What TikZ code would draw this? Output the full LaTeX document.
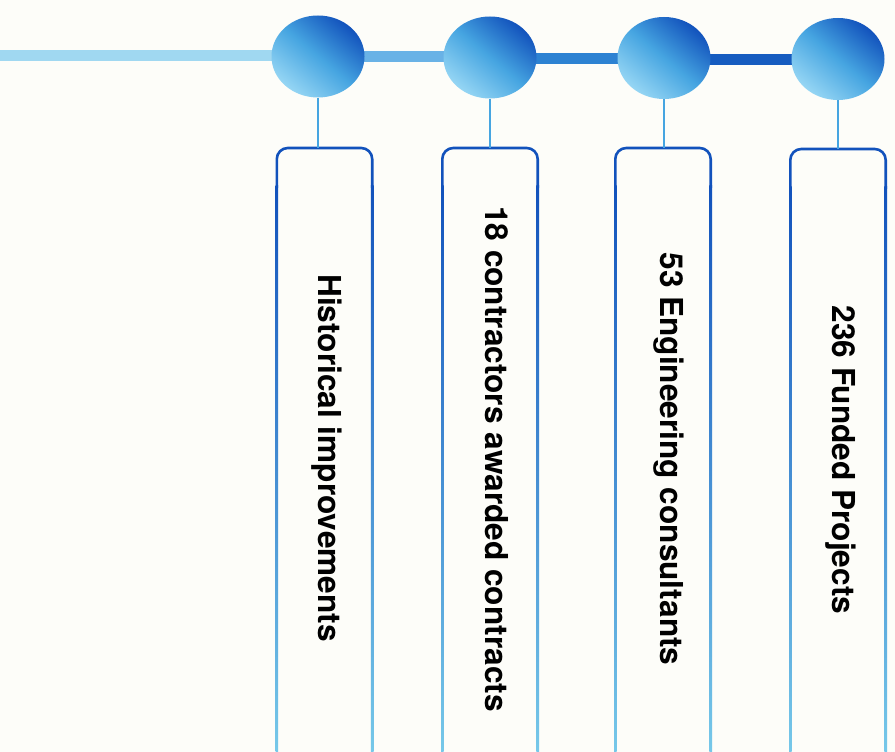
\documentclass[tikz,border=0pt]{standalone}
\usepackage{fontspec}
\setmainfont{TeX Gyre Heros}
\usetikzlibrary{shapes.geometric}
\definecolor{bg}{RGB}{253,253,249}
\definecolor{darkb}{RGB}{18,82,188}
\definecolor{lightb}{RGB}{150,214,244}
\definecolor{sideb}{RGB}{125,208,236}
\definecolor{connb}{RGB}{70,165,225}
\definecolor{barA}{RGB}{160,216,241}
\definecolor{barB}{RGB}{105,178,230}
\definecolor{barC}{RGB}{45,130,210}
\definecolor{barD}{RGB}{22,92,192}
\tikzset{
  ball/.style={ellipse, minimum width=93pt, minimum height=82pt, inner sep=0pt,
    top color=darkb, bottom color=lightb, middle color=connb, shading angle=-40},
  boxnode/.style={rectangle, minimum width=95pt, minimum height=640pt, inner sep=0pt, anchor=north},
  boxtop/.style={draw=darkb, line width=2.6pt, rounded corners=11pt},
  conn/.style={draw=connb, line width=2pt},
  lbl/.style={rotate=-90, anchor=base, inner sep=0pt, font=\fontsize{31.6}{32}\selectfont\bfseries, text=black}
}
\begin{document}
\begin{tikzpicture}[x=1pt,y=1pt]
\useasboundingbox (0,0) rectangle (895,752);
\fill[bg] (0,0) rectangle (895,752);
\begin{scope}
\clip (0,0) rectangle (895,752);
% bar
\fill[barA] (0,690.5) rectangle (318,701.5);
\fill[barB] (318,689.5) rectangle (490,700.5);
\fill[barC] (490,688) rectangle (664,699);
\fill[barD] (664,686.5) rectangle (838,697.5);
% balls
\node[ball] (e1) at (318,695.5) {};
\node[ball] (e2) at (490,694.5) {};
\node[ball] (e3) at (664,694) {};
\node[ball] (e4) at (838,693) {};
% boxes
\node[boxnode] (b1) at (324.5,604) {};
\node[boxnode] (b2) at (490,604) {};
\node[boxnode] (b3) at (663,604) {};
\node[boxnode] (b4) at (838,603) {};
\foreach \b in {b1,b2,b3,b4}{
  \shade[top color=darkb, bottom color=sideb] ([xshift=-1.3pt,yshift=-38pt]\b.north west) rectangle ([xshift=1.3pt]\b.south west);
  \shade[top color=darkb, bottom color=sideb] ([xshift=-1.3pt,yshift=-38pt]\b.north east) rectangle ([xshift=1.3pt]\b.south east);
  \draw[boxtop] ([yshift=-40pt]\b.north west) -- (\b.north west) -- (\b.north east) -- ([yshift=-40pt]\b.north east);
}
% connectors
\draw[conn] (e1.south) -- (e1.south |- b1.north);
\draw[conn] (e2.south) -- (e2.south |- b2.north);
\draw[conn] (e3.south) -- (e3.south |- b3.north);
\draw[conn] (e4.south) -- (e4.south |- b4.north);
% labels
\node[lbl] (t1) at (318,294) {Historical improvements};
\node[lbl] (t2) at (485,293) {18 contractors awarded contracts};
\node[lbl] (t3) at (660,293) {53 Engineering consultants};
\node[lbl] (t4) at (832,292) {236 Funded Projects};
\end{scope}
\end{tikzpicture}
\end{document}
